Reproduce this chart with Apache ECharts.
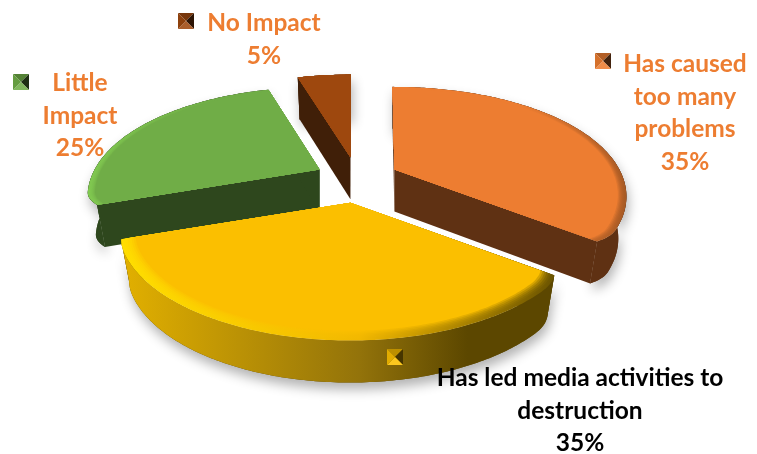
<!DOCTYPE html>
<html>
<head>
<meta charset="utf-8">
<style>html,body{margin:0;padding:0;background:#fff}#chart{width:757px;height:454px}</style>
<script src="https://cdn.jsdelivr.net/npm/echarts@6/dist/echarts.min.js"></script>
</head>
<body>
<div id="chart"></div>
<script>
// Survey shares, clockwise from twelve o'clock
const categories = ['Has caused too many problems', 'Has led media activities to destruction', 'Little Impact', 'No Impact'];
const shares = [35, 35, 25, 5];
const wrappedNames = ['Has caused\ntoo many\nproblems', 'Has led media activities to\ndestruction', 'Little\nImpact', 'No Impact'];

// Look of each slice: top face, rim highlights (left, middle, right), wall stops
const faceColors = ['#ED7D31', '#FBBF00', '#70AD47', '#9E480E'];
const rimColors = [
  ['#ED7D31', '#ED7D31', '#A85A24'],
  ['#FFDE00', '#F2B800', '#6B5400'],
  ['#80C850', '#70AD47', '#70AD47'],
  ['#9E480E', '#9E480E', '#9E480E']
];
const wallColors = [
  ['#5F3113', '#5F3113', '#5F3113'],
  ['#E2B000', '#93730A', '#5C4700'],
  ['#2E471D', '#2E471D', '#2E471D'],
  ['#401F08', '#401F08', '#401F08']
];
const rimWidths = [0.035, 0.06, 0.03, 0.005];
const cornerRounding = [[0, 0.03], [0.02, 0.005], [0.035, 0], [0, 0]];
const textColors = ['#ED7D31', '#000000', '#ED7D31', '#ED7D31'];
const labelCenters = [[685, 48], [580, 362], [80, 67], [264, 7]];
const keyCorners = [[595, 53], [387, 349], [13, 74], [178, 13]];
const drawOrder = [2, 3, 1, 0];

// Pie projection
const center = [357, 180];
const explode = [42, 23];
const radius = 225;
const tilt = 0.49;
const perspective = 0.25;
const lean = 0.05;
const depth = 42;
const baseShrink = 0.965;
const rimSteps = 7;
const cornerSpan = 0.12;

const total = shares.reduce((a, b) => a + b, 0);

function hexRgb(h) {
  return [1, 3, 5].map(i => parseInt(h.slice(i, i + 2), 16));
}
function mix(a, b, t) {
  const p = hexRgb(a), q = hexRgb(b);
  return 'rgb(' + p.map((c, i) => Math.round(c + (q[i] - c) * t)).join(',') + ')';
}
function horizontal(stops) {
  return new echarts.graphic.LinearGradient(0, 0, 1, 0, stops);
}

function sliceAngles(i) {
  const before = shares.slice(0, i).reduce((a, b) => a + b, 0);
  return [before / total * Math.PI * 2, (before + shares[i]) / total * Math.PI * 2];
}

// Top-face point at a bearing and radial fraction, seen in perspective
function project(c, angle, r) {
  const u = r * Math.sin(angle), v = -r * Math.cos(angle);
  const s = 1 + perspective * v;
  return [c[0] + radius * u * s + (c[0] - center[0]) * lean * v, c[1] + radius * tilt * v * s];
}
function lower(c, p) {
  return [c[0] + (p[0] - c[0]) * baseShrink, p[1] + depth];
}
// Arc samples; the radius eases inward near an end to soften that corner
function arcPoints(c, a0, a1, r, round) {
  const n = Math.max(24, Math.ceil((a1 - a0) * 70));
  const pts = [];
  for (let j = 0; j <= n; j++) {
    const a = a0 + (a1 - a0) * j / n;
    const d0 = Math.max(0, 1 - (a - a0) / cornerSpan), d1 = Math.max(0, 1 - (a1 - a) / cornerSpan);
    pts.push(project(c, a, r * (1 - round[0] * d0 * d0 - round[1] * d1 * d1)));
  }
  return pts;
}

function renderSlice(params) {
  const i = params.dataIndex;
  const [a0, a1] = sliceAngles(i);
  const mid = (a0 + a1) / 2;
  const c = [center[0] + explode[0] * Math.sin(mid), center[1] - explode[1] * Math.cos(mid)];
  const rank = drawOrder.indexOf(i) * 40 + 10;
  const round = cornerRounding[i];
  const top = arcPoints(c, a0, a1, 1, round);
  const bottom = top.map(p => lower(c, p));
  const apexBottom = lower(c, c);
  const children = [];
  const poly = (points, style, z2) => children.push({ type: 'polygon', shape: { points }, style, z2 });

  const walls = wallColors[i];
  const wallFill = horizontal([
    { offset: 0, color: walls[0] }, { offset: 0.55, color: walls[1] },
    { offset: 0.8, color: walls[2] }, { offset: 1, color: walls[2] }
  ]);
  const hull = top.concat(bottom.slice().reverse());

  // Soft shadow thrown on the page beneath the slice
  poly(hull, {
    fill: walls[2], shadowBlur: 12, shadowColor: 'rgba(0,0,0,0.3)', shadowOffsetY: 7, shadowOffsetX: 2
  }, 1);

  // Cut faces, then the curved outer wall
  [[c, top[0], bottom[0], apexBottom], [c, top[top.length - 1], bottom[bottom.length - 1], apexBottom]]
    .forEach(q => poly(q, { fill: walls[2] }, rank));
  poly(hull, { fill: wallFill }, rank + 1);

  // Top face: rim bands fading from the highlight into the flat colour
  const rim = rimColors[i], face = faceColors[i];
  for (let k = 0; k <= rimSteps; k++) {
    const t = k / rimSteps;
    const r = 1 - rimWidths[i] * t;
    const pts = [c].concat(arcPoints(c, a0, a1, r, round));
    const ease = t * t;
    poly(pts, {
      fill: k === rimSteps ? face : horizontal([
        { offset: 0, color: mix(rim[0], face, ease) },
        { offset: 0.55, color: mix(rim[1], face, ease) },
        { offset: 1, color: mix(rim[2], face, ease) }
      ])
    }, rank + 2 + k);
  }

  // Legend key: small bevelled square
  const kx = keyCorners[i][0], ky = keyCorners[i][1], ks = 16;
  const kc = [kx + ks / 2, ky + ks / 2];
  const corners = [[kx, ky], [kx + ks, ky], [kx + ks, ky + ks], [kx, ky + ks]];
  const shades = [mix(face, '#000000', 0.25), mix(face, '#000000', 0.72), mix(face, '#ffffff', 0.12), mix(face, '#000000', 0.1)];
  corners.forEach((p, j) => poly([p, corners[(j + 1) % 4], kc], { fill: shades[j] }, 500));

  // Category and share, centred
  children.push({
    type: 'text', z2: 510,
    style: {
      text: wrappedNames[i] + '\n' + shares[i] + '%',
      x: labelCenters[i][0], y: labelCenters[i][1],
      align: 'center', verticalAlign: 'top',
      font: 'bold 24.5px Lato, sans-serif', lineHeight: 32.5,
      fill: textColors[i]
    }
  });
  return { type: 'group', children };
}

const chart = echarts.init(document.getElementById('chart'), null, { renderer: 'canvas' });
chart.setOption({
  animation: false,
  backgroundColor: '#ffffff',
  series: [{
    type: 'custom',
    coordinateSystem: 'none',
    renderItem: renderSlice,
    data: shares.map((v, i) => ({ name: categories[i], value: v }))
  }]
});
</script>
</body>
</html>
